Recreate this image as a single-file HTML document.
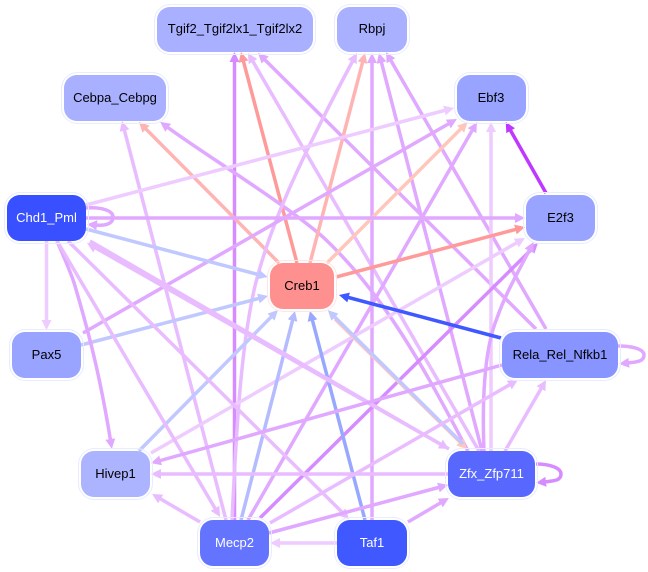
<!DOCTYPE html>
<html><head><meta charset="utf-8"><style>
html,body{margin:0;padding:0;background:#fff}
svg{display:block}
path{fill:none;stroke-width:3.5}
.a{stroke:#d68cff;marker-end:url(#a)}
.b{stroke:#e0a8ff;marker-end:url(#b)}
.c{stroke:#e8bcff;marker-end:url(#c)}
.d{stroke:#eeccff;marker-end:url(#d)}
.r1{stroke:#ff9a9a;marker-end:url(#r1)}
.r2{stroke:#ffb4b4;marker-end:url(#r2)}
.r3{stroke:#ffc6bc;marker-end:url(#r3)}
.b1{stroke:#c0c8ff;marker-end:url(#b1)}
.b2{stroke:#b4bcff;marker-end:url(#b2)}
.b3{stroke:#98a8ff;marker-end:url(#b3)}
.b4{stroke:#4058ff;marker-end:url(#b4)}
.e{stroke:#c038ff;marker-end:url(#e)}
.ring{fill:none;stroke:#e9ebff;stroke-width:1}
text{font-family:"Liberation Sans",sans-serif;font-size:13px;text-anchor:middle;fill:#000}
text.w{fill:#fff}
</style></head><body>
<svg xmlns="http://www.w3.org/2000/svg" width="648" height="572" viewBox="0 0 648 572">
<defs>
<marker id="a" viewBox="0 0 10 10" refX="2" refY="5" markerWidth="10" markerHeight="10" markerUnits="userSpaceOnUse" orient="auto"><polygon points="0,0 10,5 0,10" fill="#d68cff"/></marker>
<marker id="b" viewBox="0 0 10 10" refX="2" refY="5" markerWidth="10" markerHeight="10" markerUnits="userSpaceOnUse" orient="auto"><polygon points="0,0 10,5 0,10" fill="#e0a8ff"/></marker>
<marker id="c" viewBox="0 0 10 10" refX="2" refY="5" markerWidth="10" markerHeight="10" markerUnits="userSpaceOnUse" orient="auto"><polygon points="0,0 10,5 0,10" fill="#e8bcff"/></marker>
<marker id="d" viewBox="0 0 10 10" refX="2" refY="5" markerWidth="10" markerHeight="10" markerUnits="userSpaceOnUse" orient="auto"><polygon points="0,0 10,5 0,10" fill="#eeccff"/></marker>
<marker id="r1" viewBox="0 0 10 10" refX="2" refY="5" markerWidth="10" markerHeight="10" markerUnits="userSpaceOnUse" orient="auto"><polygon points="0,0 10,5 0,10" fill="#ff9a9a"/></marker>
<marker id="r2" viewBox="0 0 10 10" refX="2" refY="5" markerWidth="10" markerHeight="10" markerUnits="userSpaceOnUse" orient="auto"><polygon points="0,0 10,5 0,10" fill="#ffb4b4"/></marker>
<marker id="r3" viewBox="0 0 10 10" refX="2" refY="5" markerWidth="10" markerHeight="10" markerUnits="userSpaceOnUse" orient="auto"><polygon points="0,0 10,5 0,10" fill="#ffc6bc"/></marker>
<marker id="b1" viewBox="0 0 10 10" refX="2" refY="5" markerWidth="10" markerHeight="10" markerUnits="userSpaceOnUse" orient="auto"><polygon points="0,0 10,5 0,10" fill="#c0c8ff"/></marker>
<marker id="b2" viewBox="0 0 10 10" refX="2" refY="5" markerWidth="10" markerHeight="10" markerUnits="userSpaceOnUse" orient="auto"><polygon points="0,0 10,5 0,10" fill="#b4bcff"/></marker>
<marker id="b3" viewBox="0 0 10 10" refX="2" refY="5" markerWidth="10" markerHeight="10" markerUnits="userSpaceOnUse" orient="auto"><polygon points="0,0 10,5 0,10" fill="#98a8ff"/></marker>
<marker id="b4" viewBox="0 0 10 10" refX="2" refY="5" markerWidth="10" markerHeight="10" markerUnits="userSpaceOnUse" orient="auto"><polygon points="0,0 10,5 0,10" fill="#4058ff"/></marker>
<marker id="e" viewBox="0 0 10 10" refX="2" refY="5" markerWidth="10" markerHeight="10" markerUnits="userSpaceOnUse" orient="auto"><polygon points="0,0 10,5 0,10" fill="#c038ff"/></marker>
</defs>

<!-- edges -->
<path class="a" d="M234.5,520L234.5,60"/>
<path class="r1" d="M297,263L243,59.7"/>
<path class="c" d="M479,451L252,59.9"/>
<path class="b" d="M536,329L263.7,58.6"/>
<path class="c" d="M226,520L124,128.7"/>
<path class="r2" d="M279,263L144.6,127.7"/>
<path class="b" d="M468,451C425,370 385,295 323,237C280,200 205,155 166.6,126.6"/>
<path class="c" d="M232,520C236,440 240,350 255,286C270,225 300,160 353.2,60"/>
<path class="r2" d="M310,263L363,60.7"/>
<path class="b" d="M372,520L372,61"/>
<path class="b" d="M482,451L381,60.7"/>
<path class="b" d="M546,329L390,59"/>
<path class="d" d="M86,205L446.3,110"/>
<path class="b" d="M83,333L450,123"/>
<path class="r3" d="M327,263L462,127.7"/>
<path class="b" d="M248,520L473,129"/>
<path class="d" d="M491,451L491,130"/>
<path class="e" d="M546,193L509.7,129"/>
<path class="b" d="M86,218L517,218"/>
<path class="r1" d="M336,277L517.3,229"/>
<path class="d" d="M151,453L518,242"/>
<path class="a" d="M260,518L532.3,248.6"/>
<path class="b" d="M484,451C482,400 484,350 497,318C505,295 515,278 530,249"/>
<path class="b1" d="M86,229L260,275"/>
<path class="b1" d="M81,345L260.3,298"/>
<path class="b1" d="M139,451L272.4,315.7"/>
<path class="b2" d="M241,520L293,318.7"/>
<path class="b3" d="M365,520L312,318.7"/>
<path class="r3" d="M335,319L461.3,443.4"/>
<path class="b1" d="M463,444L333.5,315.8"/>
<path class="b4" d="M501,338L346.7,297"/>
<path class="c" d="M449,449L94,247"/>
<path class="c" d="M90,241L442,445"/>
<path class="d" d="M46.5,241L46.5,322"/>
<path class="b" d="M57,241C66,262 72,275 75,286C88,330 100,375 110.6,441"/>
<path class="c" d="M57,241L216,510"/>
<path class="c" d="M68,241L343.3,513.4"/>
<path class="b" d="M502,365L158.7,461"/>
<path class="c" d="M448,474L159,474"/>
<path class="c" d="M200,522L159,498"/>
<path class="d" d="M337,543L278,543"/>
<path class="b" d="M269,533L440.3,487"/>
<path class="b" d="M408,522L442,502"/>
<path class="c" d="M270,523L511,384"/>
<path class="c" d="M505,451L542,387"/>
<path class="b" d="M86,208C100,207 113,210 113,217C113,224 105,226 95,225"/>
<path class="b" d="M618,346C632,346 644,349 644,355C644,362 636,362 627,363"/>
<path class="a" d="M536,464C550,464 561,468 561,474C561,481 553,481 544,482"/>

<!-- nodes -->
<rect class="ring" x="154.5" y="4.5" width="161" height="50" rx="16"/><rect x="157" y="7" width="156" height="45" rx="13" fill="#a8b0ff"/>
<text x="235" y="33">Tgif2_Tgif2lx1_Tgif2lx2</text>
<rect class="ring" x="334.5" y="4.5" width="75" height="50" rx="16"/><rect x="337" y="7" width="70" height="45" rx="13" fill="#a8b0ff"/>
<text x="372" y="33">Rbpj</text>
<rect class="ring" x="61.5" y="72.5" width="107" height="51" rx="16"/><rect x="64" y="75" width="102" height="46" rx="13" fill="#a8b0ff"/>
<text x="115" y="102">Cebpa_Cebpg</text>
<rect class="ring" x="454.5" y="72.5" width="74" height="51" rx="16"/><rect x="457" y="75" width="69" height="46" rx="13" fill="#98a4ff"/>
<text x="491" y="102">Ebf3</text>
<rect class="ring" x="4.5" y="192.5" width="84" height="51" rx="16"/><rect x="7" y="195" width="79" height="46" rx="13" fill="#3850ff"/>
<text class="w" x="46.5" y="222">Chd1_Pml</text>
<rect class="ring" x="523.5" y="192.5" width="74" height="51" rx="16"/><rect x="526" y="195" width="69" height="46" rx="13" fill="#98a4ff"/>
<text x="560.5" y="222">E2f3</text>
<rect class="ring" x="267.5" y="260.5" width="69" height="51" rx="16" style="stroke:#ffe6e6"/><rect x="270" y="263" width="64" height="46" rx="13" fill="#ff9090"/>
<text x="302" y="290">Creb1</text>
<rect class="ring" x="9.5" y="329.5" width="74" height="51" rx="16"/><rect x="12" y="332" width="69" height="46" rx="13" fill="#98a4ff"/>
<text x="46.5" y="359">Pax5</text>
<rect class="ring" x="499.5" y="329.5" width="121" height="51" rx="16"/><rect x="502" y="332" width="116" height="46" rx="13" fill="#8894ff"/>
<text x="560" y="359">Rela_Rel_Nfkb1</text>
<rect class="ring" x="78.5" y="448.5" width="74" height="51" rx="16"/><rect x="81" y="451" width="69" height="46" rx="13" fill="#acb4ff"/>
<text x="115.5" y="478">Hivep1</text>
<rect class="ring" x="445.5" y="448.5" width="92" height="51" rx="16"/><rect x="448" y="451" width="87" height="46" rx="13" fill="#5868ff"/>
<text class="w" x="491.5" y="478">Zfx_Zfp711</text>
<rect class="ring" x="197.5" y="517.5" width="74" height="51" rx="16"/><rect x="200" y="520" width="69" height="46" rx="13" fill="#6474ff"/>
<text class="w" x="234.5" y="547">Mecp2</text>
<rect class="ring" x="334.5" y="517.5" width="75" height="51" rx="16"/><rect x="337" y="520" width="70" height="46" rx="13" fill="#4058ff"/>
<text class="w" x="372" y="547">Taf1</text>
</svg>
</body></html>
